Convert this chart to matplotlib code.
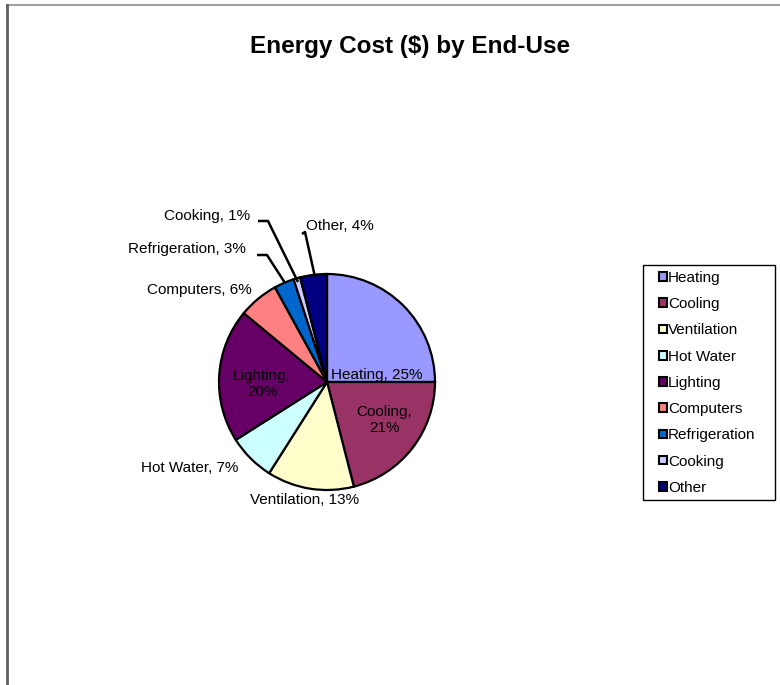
import matplotlib
matplotlib.use('Agg')
import matplotlib.pyplot as plt
from matplotlib.lines import Line2D
from matplotlib.patches import Rectangle

# ---- data ----
categories = ['Heating', 'Cooling', 'Ventilation', 'Hot Water', 'Lighting',
              'Computers', 'Refrigeration', 'Cooking', 'Other']
shares = [25, 21, 13, 7, 20, 6, 3, 1, 4]
colors = ['#9999FF', '#993366', '#FFFFCC', '#CCFFFF', '#660066',
          '#FF8080', '#0066CC', '#CCCCFF', '#000080']

W, H = 780, 685
plt.rcParams['font.family'] = ['Liberation Sans', 'DejaVu Sans']

fig = plt.figure(figsize=(W / 100, H / 100), dpi=100)
ax = fig.add_axes([0, 0, 1, 1])

cx, cy, r = 327, H - 382, 108
wedges, _ = ax.pie(shares, colors=colors, startangle=90, counterclock=False,
                   center=(cx, cy), radius=r, frame=True,
                   wedgeprops=dict(edgecolor='black', linewidth=1.6))
ax.set_xlim(0, W); ax.set_ylim(0, H)
ax.set_aspect('equal')
ax.axis('off')

fs = 11
def lab(x, y, s):
    ax.text(x, H - y, s, ha='center', va='center', fontsize=fs, color='black',
            linespacing=1.25)

lab(377, 375, f'{categories[0]}, {shares[0]}%')
lab(384, 420, f'{categories[1]},\n{shares[1]}%')
lab(305, 500, f'{categories[2]}, {shares[2]}%')
lab(190, 468, f'{categories[3]}, {shares[3]}%')
lab(262, 384, f'{categories[4]},\n{shares[4]}%')
lab(199, 290, f'{categories[5]}, {shares[5]}%')
lab(187, 249, f'{categories[6]}, {shares[6]}%')
lab(207, 216, f'{categories[7]}, {shares[7]}%')
lab(340, 226, f'{categories[8]}, {shares[8]}%')

# leader lines
for xs, ys in [([257, 267, 285], [255, 255, 283]),
               ([258, 268, 298], [221, 221, 282]),
               ([302, 305, 315], [234, 232, 277])]:
    ax.plot(xs, [H - y for y in ys], color='black', lw=1.8, solid_capstyle='butt')

fig.text(410 / W, 1 - 47 / H, 'Energy Cost ($) by End-Use', ha='center', va='center',
         fontsize=17.5, fontweight='bold')

# legend box drawn separately, entries via legend
ax.add_patch(Rectangle((643, H - 500), 132, 235, facecolor='white',
                       edgecolor='black', lw=1.0, zorder=3))
leg = fig.legend(wedges, categories, loc='upper left',
                 bbox_to_anchor=(659 / W, 1 - 271 / H), fontsize=fs,
                 frameon=False, borderpad=0,
                 handlelength=0.5, handleheight=0.5, handletextpad=0.1,
                 labelspacing=0.8, borderaxespad=0)
for h in leg.legend_handles:
    h.set_linewidth(1.5)

# outer chart-area border (top and left edges visible)
fig.add_artist(Line2D([7 / W, 1], [1 - 5 / H, 1 - 5 / H], color='#a0a0a0', lw=1.5,
                      transform=fig.transFigure))
fig.add_artist(Line2D([7 / W, 7 / W], [0, 1 - 5 / H], color='#606060', lw=2,
                      transform=fig.transFigure))

fig.savefig('out.png', dpi=100)
